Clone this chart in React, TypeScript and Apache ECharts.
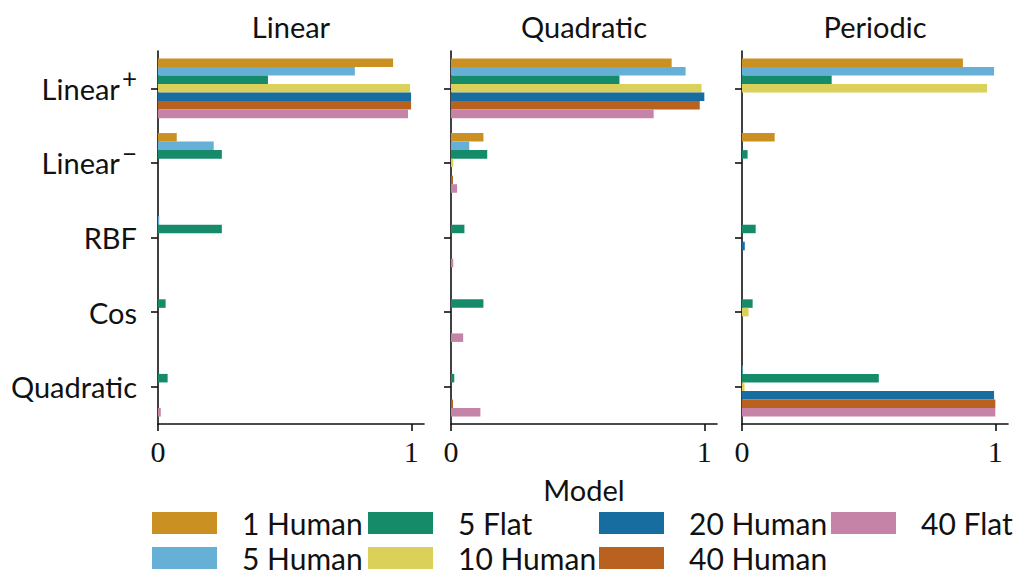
import React, { useEffect, useRef } from "react";
import * as echarts from "echarts";

// Kernel categories (y axis) and panel titles
const categories = ["Linear+", "Linear−", "RBF", "Cos", "Quadratic"];
const panels = ["Linear", "Quadratic", "Periodic"];
const models = ["1 Human", "5 Human", "5 Flat", "10 Human", "20 Human", "40 Human", "40 Flat"];
const modelColors = ["#CA9122", "#66B0D8", "#158B6A", "#DBD05A", "#176CA0", "#B9611F", "#C583A8"];

// Values per panel: one array per model, one value per category
const linearPanel = [
  [0.928, 0.074, 0, 0, 0],
  [0.777, 0.22, 0.005, 0, 0],
  [0.434, 0.252, 0.252, 0.03, 0.038],
  [0.995, 0, 0, 0, 0],
  [0.999, 0, 0, 0, 0],
  [0.999, 0, 0, 0, 0],
  [0.987, 0, 0, 0, 0.011],
];
const quadraticPanel = [
  [0.871, 0.128, 0, 0, 0],
  [0.926, 0.072, 0, 0, 0],
  [0.665, 0.143, 0.053, 0.128, 0.013],
  [0.989, 0.009, 0, 0, 0],
  [1.0, 0, 0, 0, 0],
  [0.982, 0.008, 0, 0, 0.008],
  [0.8, 0.024, 0.009, 0.048, 0.116],
];
const periodicPanel = [
  [0.872, 0.129, 0, 0, 0],
  [0.995, 0, 0, 0, 0.003],
  [0.354, 0.022, 0.054, 0.042, 0.54],
  [0.967, 0, 0, 0.026, 0.01],
  [0, 0, 0.011, 0, 0.995],
  [0, 0, 0, 0, 1.0],
  [0, 0, 0, 0, 1.0],
];
const xTicks = [0, 1];

const panelData = [linearPanel, quadraticPanel, periodicPanel];
const gridLefts = [158, 451, 742];
const gridWidth = 266;
const gridTop = 51;
const gridHeight = 373;

const SANS = "Lato, 'Open Sans', sans-serif";
const SERIF = "'Liberation Serif', 'DejaVu Serif', serif";
const INK = "#111";

function categoryLabel(c: string): string {
  if (c.endsWith("+") || c.endsWith("−")) {
    return `{base|${c.slice(0, -1)}}{sup|${c.slice(-1)}}`;
  }
  return `{base|${c}}`;
}

export default function App() {
  const ref = useRef<HTMLDivElement>(null);

  useEffect(() => {
    if (!ref.current) return;
    const chart = echarts.init(ref.current, undefined, { renderer: "svg" });

    const grids = panels.map((_, i) => ({
      left: gridLefts[i],
      top: gridTop,
      width: gridWidth,
      height: gridHeight,
    }));

    const axisLine = { show: true, lineStyle: { color: INK, width: 1.6 } };
    const axisTick = { show: true, length: 7, lineStyle: { color: INK, width: 1.6 } };

    const xAxes = panels.map((_, i) => ({
      type: "value",
      gridIndex: i,
      min: 0,
      max: 1.05,
      interval: 1,
      splitLine: { show: false },
      axisLine,
      axisTick: { ...axisTick, customValues: xTicks },
      axisLabel: {
        customValues: xTicks,
        fontFamily: SERIF,
        fontSize: 30,
        color: INK,
        margin: 12,
      },
    }));

    const yAxes = panels.map((_, i) => ({
      type: "category",
      gridIndex: i,
      data: categories,
      inverse: true,
      axisLine,
      axisTick: { ...axisTick, alignWithLabel: true },
      axisLabel: {
        show: i === 0,
        margin: 21,
        formatter: (v: string) => categoryLabel(v),
        rich: {
          base: { fontFamily: SANS, fontSize: 29, color: INK },
          sup: { fontFamily: SANS, fontSize: 26, color: INK, padding: [0, 0, 20, 2] },
        },
      },
    }));

    const series: any[] = [];
    panelData.forEach((panel, p) => {
      models.forEach((m, k) => {
        series.push({
          type: "bar",
          name: m,
          xAxisIndex: p,
          yAxisIndex: p,
          data: panel[k],
          itemStyle: { color: modelColors[k] },
          barCategoryGap: "20%",
          barGap: "0%",
        });
      });
    });

    // Legend laid out column by column, two rows each
    const legendCols = [
      { left: 152, data: ["1 Human", "5 Human"] },
      { left: 368, data: ["5 Flat", "10 Human"] },
      { left: 599, data: ["20 Human", "40 Human"] },
      { left: 831, data: ["40 Flat"] },
    ];
    const legends = legendCols.map((c) => ({
      orient: "vertical",
      left: c.left,
      top: 508,
      height: 120,
      padding: 0,
      itemWidth: 65,
      itemHeight: 22,
      itemGap: 5,
      icon: "rect",
      selectedMode: false,
      data: c.data,
      textStyle: {
        fontFamily: SANS,
        fontSize: 30,
        color: INK,
        lineHeight: 22,
        padding: [0, 0, 0, 20],
      },
    }));

    const titles = panels.map((t, i) => ({
      type: "text",
      x: gridLefts[i] + gridWidth / 2,
      y: 26,
      style: {
        text: t,
        fontFamily: SANS,
        fontSize: 29,
        fill: INK,
        align: "center",
        verticalAlign: "middle",
      },
    }));

    chart.setOption({
      animation: false,
      backgroundColor: "#fff",
      grid: grids,
      xAxis: xAxes,
      yAxis: yAxes,
      series,
      legend: legends,
      graphic: [
        ...titles,
        {
          type: "text",
          x: 584,
          y: 489,
          style: {
            text: "Model",
            fontFamily: SANS,
            fontSize: 29,
            fill: INK,
            align: "center",
            verticalAlign: "middle",
          },
        },
      ],
    });

    return () => chart.dispose();
  }, []);

  return (
    <div
      ref={ref}
      style={{ position: "absolute", left: 0, top: 0, width: 1019, height: 579 }}
    />
  );
}
